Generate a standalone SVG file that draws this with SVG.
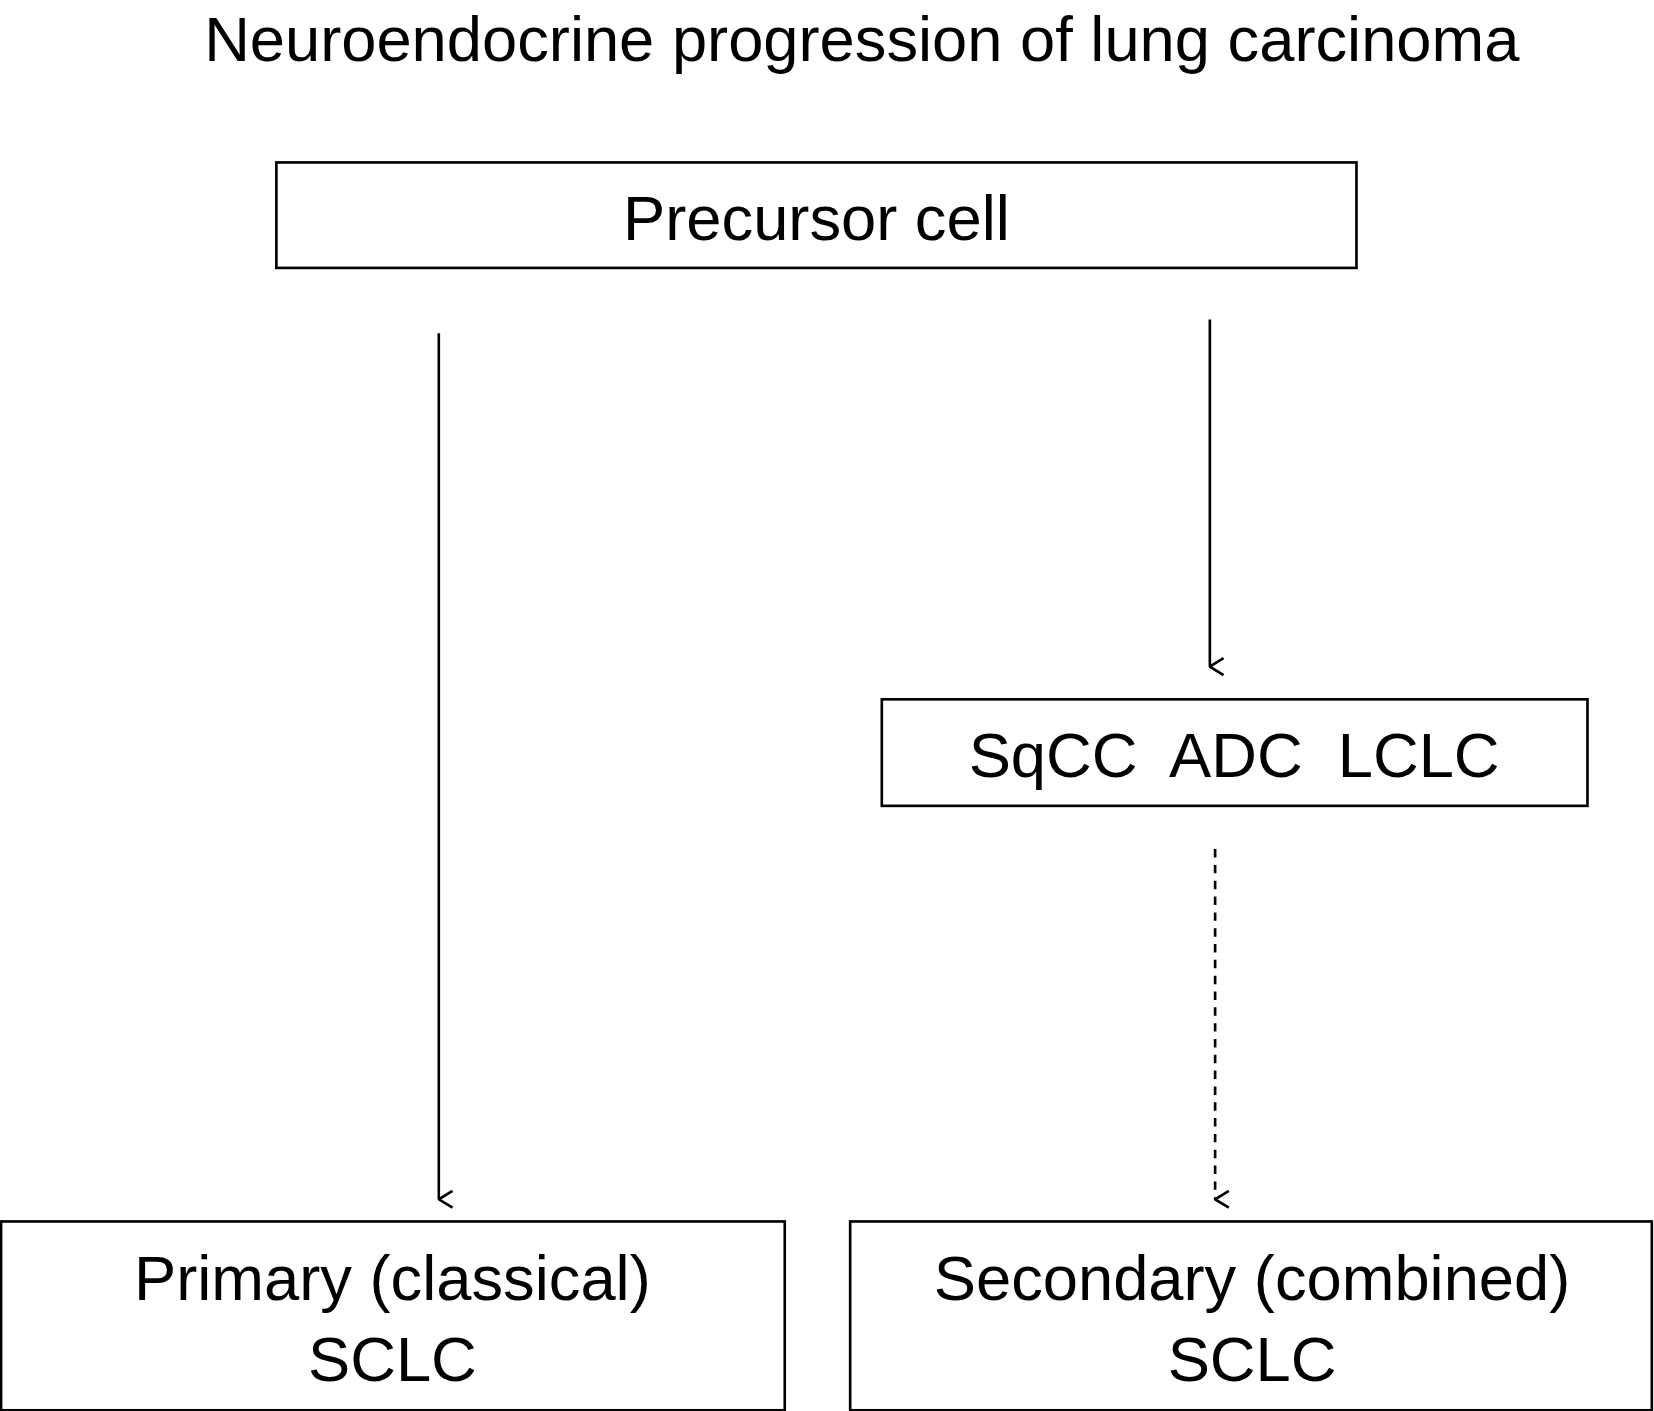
<svg xmlns="http://www.w3.org/2000/svg" width="1654" height="1411" viewBox="0 0 1654 1411">
<style>
text{font-family:"Liberation Sans",Arial,sans-serif;fill:#000;text-anchor:middle;font-size:60px;white-space:pre}
.box{fill:#fff;stroke:#000;stroke-width:2.5}
.ln{stroke:#000;stroke-width:2.5;fill:none}
.dash{stroke-dasharray:8,7}
</style>
<defs>
<marker id="ah" viewBox="0 0 20 20" refX="10" refY="19" markerWidth="20" markerHeight="20" markerUnits="userSpaceOnUse" orient="auto-start-reverse">
<path d="M2,6 L10,19 L18,6" fill="none" stroke="#000" stroke-width="2.5"/>
</marker>
</defs>
<rect width="1654" height="1411" fill="#fff"/>
<g transform="scale(1.0548)">
<text id="title" x="817" y="58">Neuroendocrine progression of lung carcinoma</text>
<g id="precursor"><rect class="box" x="262" y="154" width="1024" height="100"/><text x="774" y="228">Precursor cell</text></g>
<g id="nsclc"><rect class="box" x="836" y="663" width="669" height="101"/><text x="1170" y="737">SqCC  ADC  LCLC</text></g>
<g id="primary"><rect class="box" x="1" y="1158" width="743" height="179"/><text x="372" y="1232">Primary (classical)</text><text x="372" y="1309">SCLC</text></g>
<g id="secondary"><rect class="box" x="806" y="1158" width="760" height="179"/><text x="1187" y="1232">Secondary (combined)</text><text x="1187" y="1309">SCLC</text></g>
<g id="connectors">
<line class="ln" x1="416" y1="316" x2="416" y2="1137" marker-end="url(#ah)"/>
<line class="ln" x1="1147" y1="303" x2="1147" y2="632" marker-end="url(#ah)"/>
<line class="ln dash" x1="1152" y1="805" x2="1152" y2="1137" marker-end="url(#ah)"/>
</g>
</g>
</svg>
